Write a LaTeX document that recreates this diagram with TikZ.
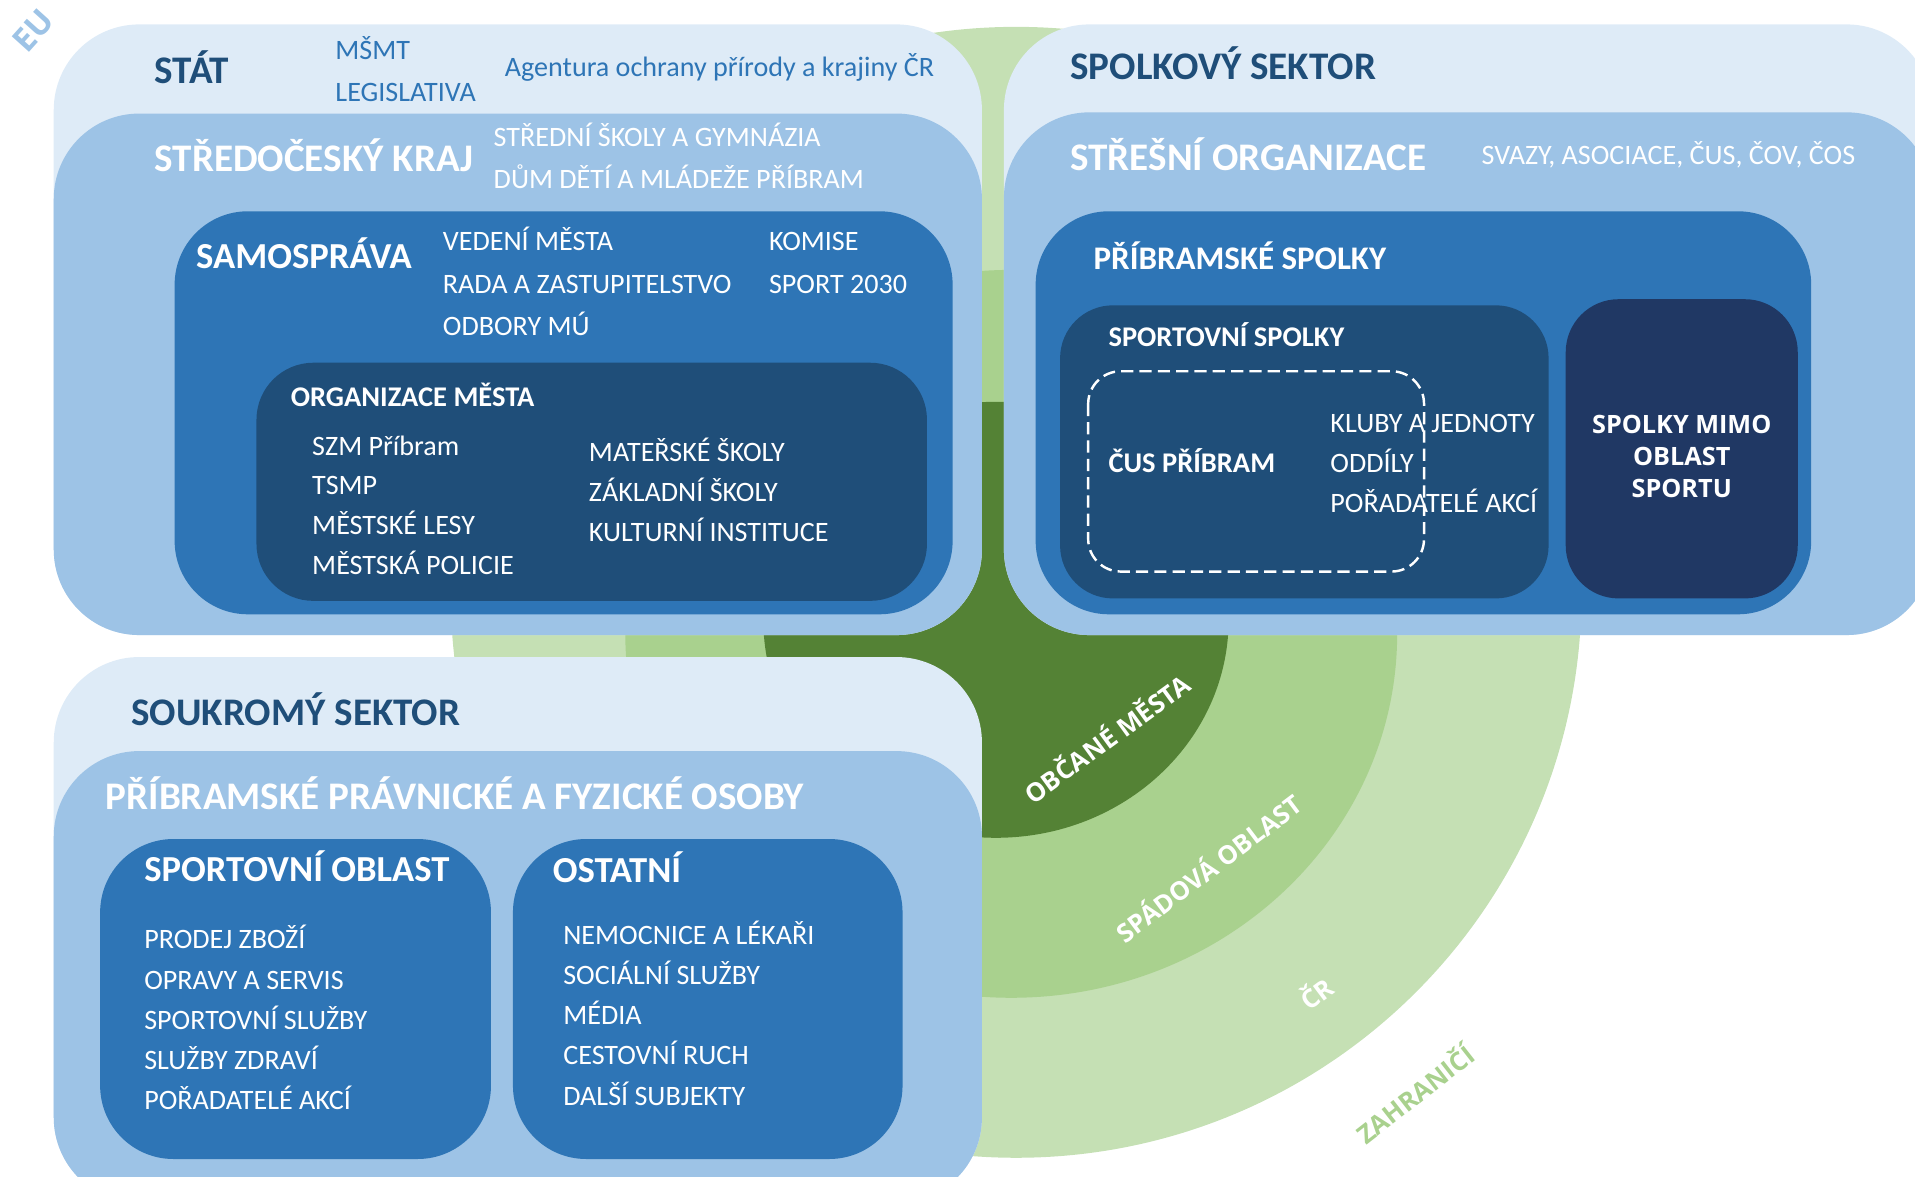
\documentclass[tikz,border=0pt]{standalone}
\usepackage{fontspec}
\setmainfont{Carlito}
\newfontfamily\ringfont{Open Sans}
\definecolor{paleblue}{HTML}{DEEBF7}
\definecolor{skyblue}{HTML}{9DC3E6}
\definecolor{midblue}{HTML}{2E75B6}
\definecolor{deepblue}{HTML}{1F4E79}
\definecolor{navyblue}{HTML}{203864}
\definecolor{darkgreen}{HTML}{548235}
\definecolor{midgreen}{HTML}{A9D18E}
\definecolor{palegreen}{HTML}{C5E0B4}
\tikzset{
  item/.style={anchor=base west, inner sep=0pt, white, font=\fontsize{6.9}{8}\selectfont},
  note/.style={item, midblue},
  bighead/.style={item, font=\fontsize{9.6}{11}\selectfont\bfseries},
  sector/.style={bighead, deepblue},
  head/.style={item, font=\fontsize{9}{11}\selectfont\bfseries},
  midhead/.style={item, font=\fontsize{8.1}{10}\selectfont\bfseries},
  smallhead/.style={item, font=\fontsize{7}{9}\selectfont\bfseries},
  mimo/.style={inner sep=0pt, white, align=center, font=\ringfont\bfseries\fontsize{6.2}{7.9}\selectfont},
  ring/.style={inner sep=0pt, white, font=\ringfont\bfseries\fontsize{6.3}{7}\selectfont},
}
\begin{document}
\begin{tikzpicture}[x=0.3pt, y=-0.3pt]
\useasboundingbox (0,0) rectangle (1568,963);
% spheres round the town
\fill[palegreen] (832,485) circle [radius=138.9pt];
\fill[midgreen] (828,519) ellipse [x radius=94.8pt, y radius=89.4pt];
\fill[darkgreen] (815.5,507.5) ellipse [x radius=57.15pt, y radius=53.55pt];
% public sector
\fill[paleblue, rounded corners=21pt] (44,20) rectangle (804,520);
\fill[skyblue, rounded corners=21pt] (44,93) rectangle (804,520);
\fill[midblue, rounded corners=18pt] (143,173) rectangle (780,503);
\fill[deepblue, rounded corners=14pt] (210,297) rectangle (759,492);
% clubs
\fill[paleblue, rounded corners=21pt] (822,20) rectangle (1582,520);
\fill[skyblue, rounded corners=21pt] (822,92) rectangle (1582,520);
\fill[midblue, rounded corners=18pt] (848,173) rectangle (1483,503);
\fill[deepblue, rounded corners=13pt] (868,250) rectangle (1268,490);
\fill[navyblue, rounded corners=13pt] (1282,245) rectangle (1472,490);
\draw[white, dash pattern=on 3pt off 1.5pt, line width=0.6pt, rounded corners=8pt] (891,304) rectangle (1166,468);
% private sector
\fill[paleblue, rounded corners=21pt] (44,538) rectangle (804,985);
\fill[skyblue, rounded corners=21pt] (44,615) rectangle (804,985);
\fill[midblue, rounded corners=18pt] (82,687) rectangle (402,949);
\fill[midblue, rounded corners=18pt] (420,687) rectangle (739,949);
%
\node[sector] (stat) at (126,68) {STÁT};
\node[note] (msmt) at (274,48.6) {MŠMT};
\node[note] (legis) at (274,83.3) {LEGISLATIVA};
\node[note] (aopk) at (412.7,62.8) {Agentura ochrany přírody a krajiny ČR};
\node[bighead] (kraj) at (126,140.6) {STŘEDOČESKÝ KRAJ};
\node[item] (skoly) at (403.6,120) {STŘEDNÍ ŠKOLY A GYMNÁZIA};
\node[item] (ddm) at (403.6,154.2) {DŮM DĚTÍ A MLÁDEŽE PŘÍBRAM};
\node[head] (samo) at (160,219.7) {SAMOSPRÁVA};
\foreach \t [count=\i from 0] in {VEDENÍ MĚSTA, RADA A ZASTUPITELSTVO, ODBORY MÚ}
  \node[item] (vedeni\i) at (362,205.3+34.9*\i) {\t};
\node[item] (komise) at (629,205.3) {KOMISE};
\node[item] (sport2030) at (629,240.2) {SPORT 2030};
\node[smallhead] (org) at (237.5,333) {ORGANIZACE MĚSTA};
\foreach \t [count=\i from 0] in {SZM Příbram, TSMP, MĚSTSKÉ LESY, MĚSTSKÁ POLICIE}
  \node[item] (orgA\i) at (255,372.6+32.7*\i) {\t};
\foreach \t [count=\i from 0] in {MATEŘSKÉ ŠKOLY, ZÁKLADNÍ ŠKOLY, KULTURNÍ INSTITUCE}
  \node[item] (orgB\i) at (481.6,378+32.8*\i) {\t};
%
\node[sector] (spolky) at (875.8,65.5) {SPOLKOVÝ SEKTOR};
\node[bighead] (strechy) at (875.8,139.7) {STŘEŠNÍ ORGANIZACE};
\node[item] (svazy) at (1212.4,135) {SVAZY, ASOCIACE, ČUS, ČOV, ČOS};
\node[midhead] (pspolky) at (894.8,220.5) {PŘÍBRAMSKÉ SPOLKY};
\node[smallhead] (sspolky) at (907,284) {SPORTOVNÍ SPOLKY};
\node[smallhead] (cus) at (907,387) {ČUS PŘÍBRAM};
\foreach \t [count=\i from 0] in {KLUBY A JEDNOTY, ODDÍLY, POŘADATELÉ AKCÍ}
  \node[item] (kluby\i) at (1088.7,354.3+32.8*\i) {\t};
\node[mimo] (mimo) at (1377,373.5) {SPOLKY MIMO\\OBLAST\\SPORTU};
%
\node[sector] (soukr) at (107,594) {SOUKROMÝ SEKTOR};
\node[bighead] (osoby) at (86,662.6) {PŘÍBRAMSKÉ PRÁVNICKÉ A FYZICKÉ OSOBY};
\node[head] (oblast) at (117.5,722) {SPORTOVNÍ OBLAST};
\foreach \t [count=\i from 0] in {PRODEJ ZBOŽÍ, OPRAVY A SERVIS, SPORTOVNÍ SLUŽBY, SLUŽBY ZDRAVÍ, POŘADATELÉ AKCÍ}
  \node[item] (sport\i) at (117.5,777+32.8*\i) {\t};
\node[head] (ostatni) at (452,723) {OSTATNÍ};
\foreach \t [count=\i from 0] in {NEMOCNICE A LÉKAŘI, SOCIÁLNÍ SLUŽBY, MÉDIA, CESTOVNÍ RUCH, DALŠÍ SUBJEKTY}
  \node[item] (jine\i) at (460.6,773+33*\i) {\t};
%
\node[ring, rotate=36] (obcane) at (905.6,604) {OBČANÉ MĚSTA};
\node[ring, rotate=37] (spadova) at (988.8,710) {SPÁDOVÁ OBLAST};
\node[ring, rotate=37] (cr) at (1077.6,812.6) {ČR};
\node[ring, rotate=38, midgreen] (zahr) at (1158,895) {ZAHRANIČÍ};
\node[ring, rotate=48, skyblue, font=\ringfont\bfseries\fontsize{8}{9}\selectfont] (eu) at (27,25) {EU};
\end{tikzpicture}
\end{document}
